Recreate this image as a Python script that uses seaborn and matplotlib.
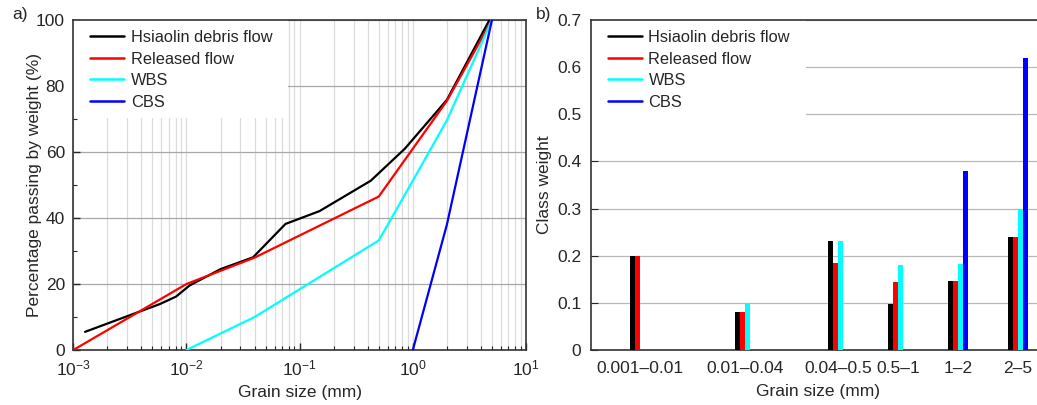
import numpy as np
import pandas as pd
import matplotlib
matplotlib.use("Agg")
import matplotlib.pyplot as plt
import seaborn as sns
from matplotlib.lines import Line2D
from matplotlib.patches import Rectangle
from matplotlib.ticker import LogLocator, MultipleLocator, NullFormatter, FixedLocator

# ---------------- data ----------------
series = ["Hsiaolin debris flow", "Released flow", "WBS", "CBS"]
colors = ["#000000", "#ff0000", "#00ffff", "#0000ff"]

hsiaolin_size = [0.00127, 0.0058, 0.0081, 0.0107, 0.02, 0.0388, 0.075, 0.15, 0.425, 0.85, 2.0, 4.75]
hsiaolin_pass = [5.5, 13.9, 16.2, 19.6, 24.5, 28.1, 38.2, 42.1, 51.3, 61.0, 75.8, 100]
released_size = [0.001, 0.01, 0.04, 0.5, 1, 2, 5]
released_pass = [0, 20, 28, 46.5, 61, 75.5, 100]
wbs_size = [0.01, 0.04, 0.5, 1, 2, 5]
wbs_pass = [0, 10, 33.2, 51.3, 69.6, 100]
cbs_size = [1, 2, 5]
cbs_pass = [0, 38, 100]

classes = ["0.001\u20130.01", "0.01\u20130.04", "0.04\u20130.5", "0.5\u20131", "1\u20132", "2\u20135"]
class_pos = [1.0, 2.75, 4.3, 5.3, 6.3, 7.3]
hsiaolin_w = [0.20, 0.08, 0.232, 0.098, 0.146, 0.24]
released_w = [0.20, 0.08, 0.185, 0.145, 0.146, 0.24]
wbs_w = [0.0, 0.10, 0.232, 0.181, 0.183, 0.30]
cbs_w = [0.0, 0.0, 0.0, 0.0, 0.38, 0.62]

weight_ticks = [0, 0.1, 0.2, 0.3, 0.4, 0.5, 0.6, 0.7]
weight_labels = ["0", "0.1", "0.2", "0.3", "0.4", "0.5", "0.6", "0.7"]

# ---------------- style ----------------
sns.set_style("ticks")
plt.rcParams["font.family"] = ["Liberation Sans", "DejaVu Sans"]
plt.rcParams["mathtext.fontset"] = "custom"
plt.rcParams["mathtext.rm"] = "Liberation Sans"
plt.rcParams["mathtext.it"] = "Liberation Sans:italic"
plt.rcParams["mathtext.bf"] = "Liberation Sans:bold"
FS = 12.5
LFS = 11.8

W, H = 1037, 405
fig = plt.figure(figsize=(W / 100, H / 100), dpi=100)
ax1 = fig.add_axes([73.3 / W, 55 / H, (526 - 73.3) / W, 330 / H])
ax2 = fig.add_axes([591 / W, 55 / H, (1045 - 591) / W, 330 / H])

# ---------------- panel a ----------------
line_df = pd.concat([
    pd.DataFrame({"size": hsiaolin_size, "pass": hsiaolin_pass, "series": series[0]}),
    pd.DataFrame({"size": released_size, "pass": released_pass, "series": series[1]}),
    pd.DataFrame({"size": wbs_size, "pass": wbs_pass, "series": series[2]}),
    pd.DataFrame({"size": cbs_size, "pass": cbs_pass, "series": series[3]}),
], ignore_index=True)

sns.lineplot(data=line_df, x="size", y="pass", hue="series", hue_order=series,
             palette=colors, sort=False, estimator=None, linewidth=1.6,
             legend=False, ax=ax1, zorder=3)
ax1.set_xscale("log")
ax1.set_xlim(1e-3, 10)
ax1.set_ylim(0, 100)
ax1.xaxis.set_minor_locator(LogLocator(base=10, subs=np.arange(2, 10), numticks=100))
ax1.xaxis.set_minor_formatter(NullFormatter())
ax1.set_xticks([1e-3, 1e-2, 1e-1, 1, 10])
ax1.set_xticklabels([r"$10^{-3}$", r"$10^{-2}$", r"$10^{-1}$", r"$10^{0}$", r"$10^{1}$"])
ax1.yaxis.set_major_locator(MultipleLocator(20))
ax1.yaxis.set_minor_locator(MultipleLocator(10))
ax1.grid(True, which="major", axis="y", color="#a8a8a8", linewidth=0.9, zorder=0)
ax1.grid(True, which="both", axis="x", color="#dcdcdc", linewidth=0.9, zorder=0)
ax1.set_axisbelow(True)
ax1.tick_params(which="both", direction="in", labelsize=FS, top=False, right=False)
ax1.tick_params(which="major", length=5, width=1)
ax1.tick_params(which="minor", length=3, width=0.8)
ax1.tick_params(axis="x", which="major", pad=6)
ax1.tick_params(axis="y", which="major", pad=6)
ax1.set_xlabel("Grain size (mm)", fontsize=FS, labelpad=5)
ax1.set_ylabel("Percentage passing by weight (%)", fontsize=FS)
ax1.yaxis.set_label_coords((42 - 73.3) / 452.7, 0.5)
for s in ax1.spines.values():
    s.set_linewidth(1.2)
    s.set_color("#333333")

# ---------------- panel b ----------------
bar_df = pd.concat([
    pd.DataFrame({"pos": class_pos, "weight": hsiaolin_w, "series": series[0]}),
    pd.DataFrame({"pos": class_pos, "weight": released_w, "series": series[1]}),
    pd.DataFrame({"pos": class_pos, "weight": wbs_w, "series": series[2]}),
    pd.DataFrame({"pos": class_pos, "weight": cbs_w, "series": series[3]}),
], ignore_index=True)

sns.barplot(data=bar_df, x="pos", y="weight", hue="series", hue_order=series,
            palette=colors, native_scale=True, width=0.317, dodge=True,
            saturation=1, errorbar=None, linewidth=0, legend=False, ax=ax2, zorder=3)
ax2.set_xlim(1 - 49 / 60, 1 + (1045 - 640) / 60)
ax2.set_ylim(0, 0.7)
ax2.xaxis.set_major_locator(FixedLocator(class_pos))
ax2.set_xticklabels(classes)
ax2.set_yticks(weight_ticks)
ax2.set_yticklabels(weight_labels)
ax2.grid(True, which="major", axis="y", color="#b8b8b8", linewidth=0.9, zorder=0)
ax2.set_axisbelow(True)
ax2.tick_params(axis="y", direction="in", length=5, labelsize=FS, right=False, pad=7)
ax2.tick_params(axis="x", length=0, labelsize=FS, pad=8)
ax2.set_xlabel("Grain size (mm)", fontsize=FS, labelpad=6)
ax2.set_ylabel("Class weight", fontsize=FS)
ax2.yaxis.set_label_coords((552 - 591) / 454.0, 0.5)
for s in ax2.spines.values():
    s.set_linewidth(1.2)
    s.set_color("#333333")

# ---------------- legends ----------------
handles = [Line2D([0], [0], color=c, linewidth=1.8) for c in colors]
for ax, wpx in ((ax1, 215.0), (ax2, 214.7)):
    bb = ax.get_position()
    axw = bb.width * W
    axh = bb.height * H
    ax.add_patch(Rectangle((0, 1 - 98 / axh), wpx / axw, 98 / axh, transform=ax.transAxes,
                           facecolor="white", edgecolor="none", zorder=2))
    ax.legend(handles, series, loc="upper left", bbox_to_anchor=(17 / axw, 1 - 10 / axh),
              frameon=False, fontsize=LFS, handlelength=2.05, handletextpad=0.42,
              labelspacing=0.4, borderpad=0, borderaxespad=0)

fig.text(12 / W, 1 - 15 / H, "a)", fontsize=FS, va="center", ha="left")
fig.text(536 / W, 1 - 15 / H, "b)", fontsize=FS, va="center", ha="left")

fig.savefig("out.png", dpi=100)
